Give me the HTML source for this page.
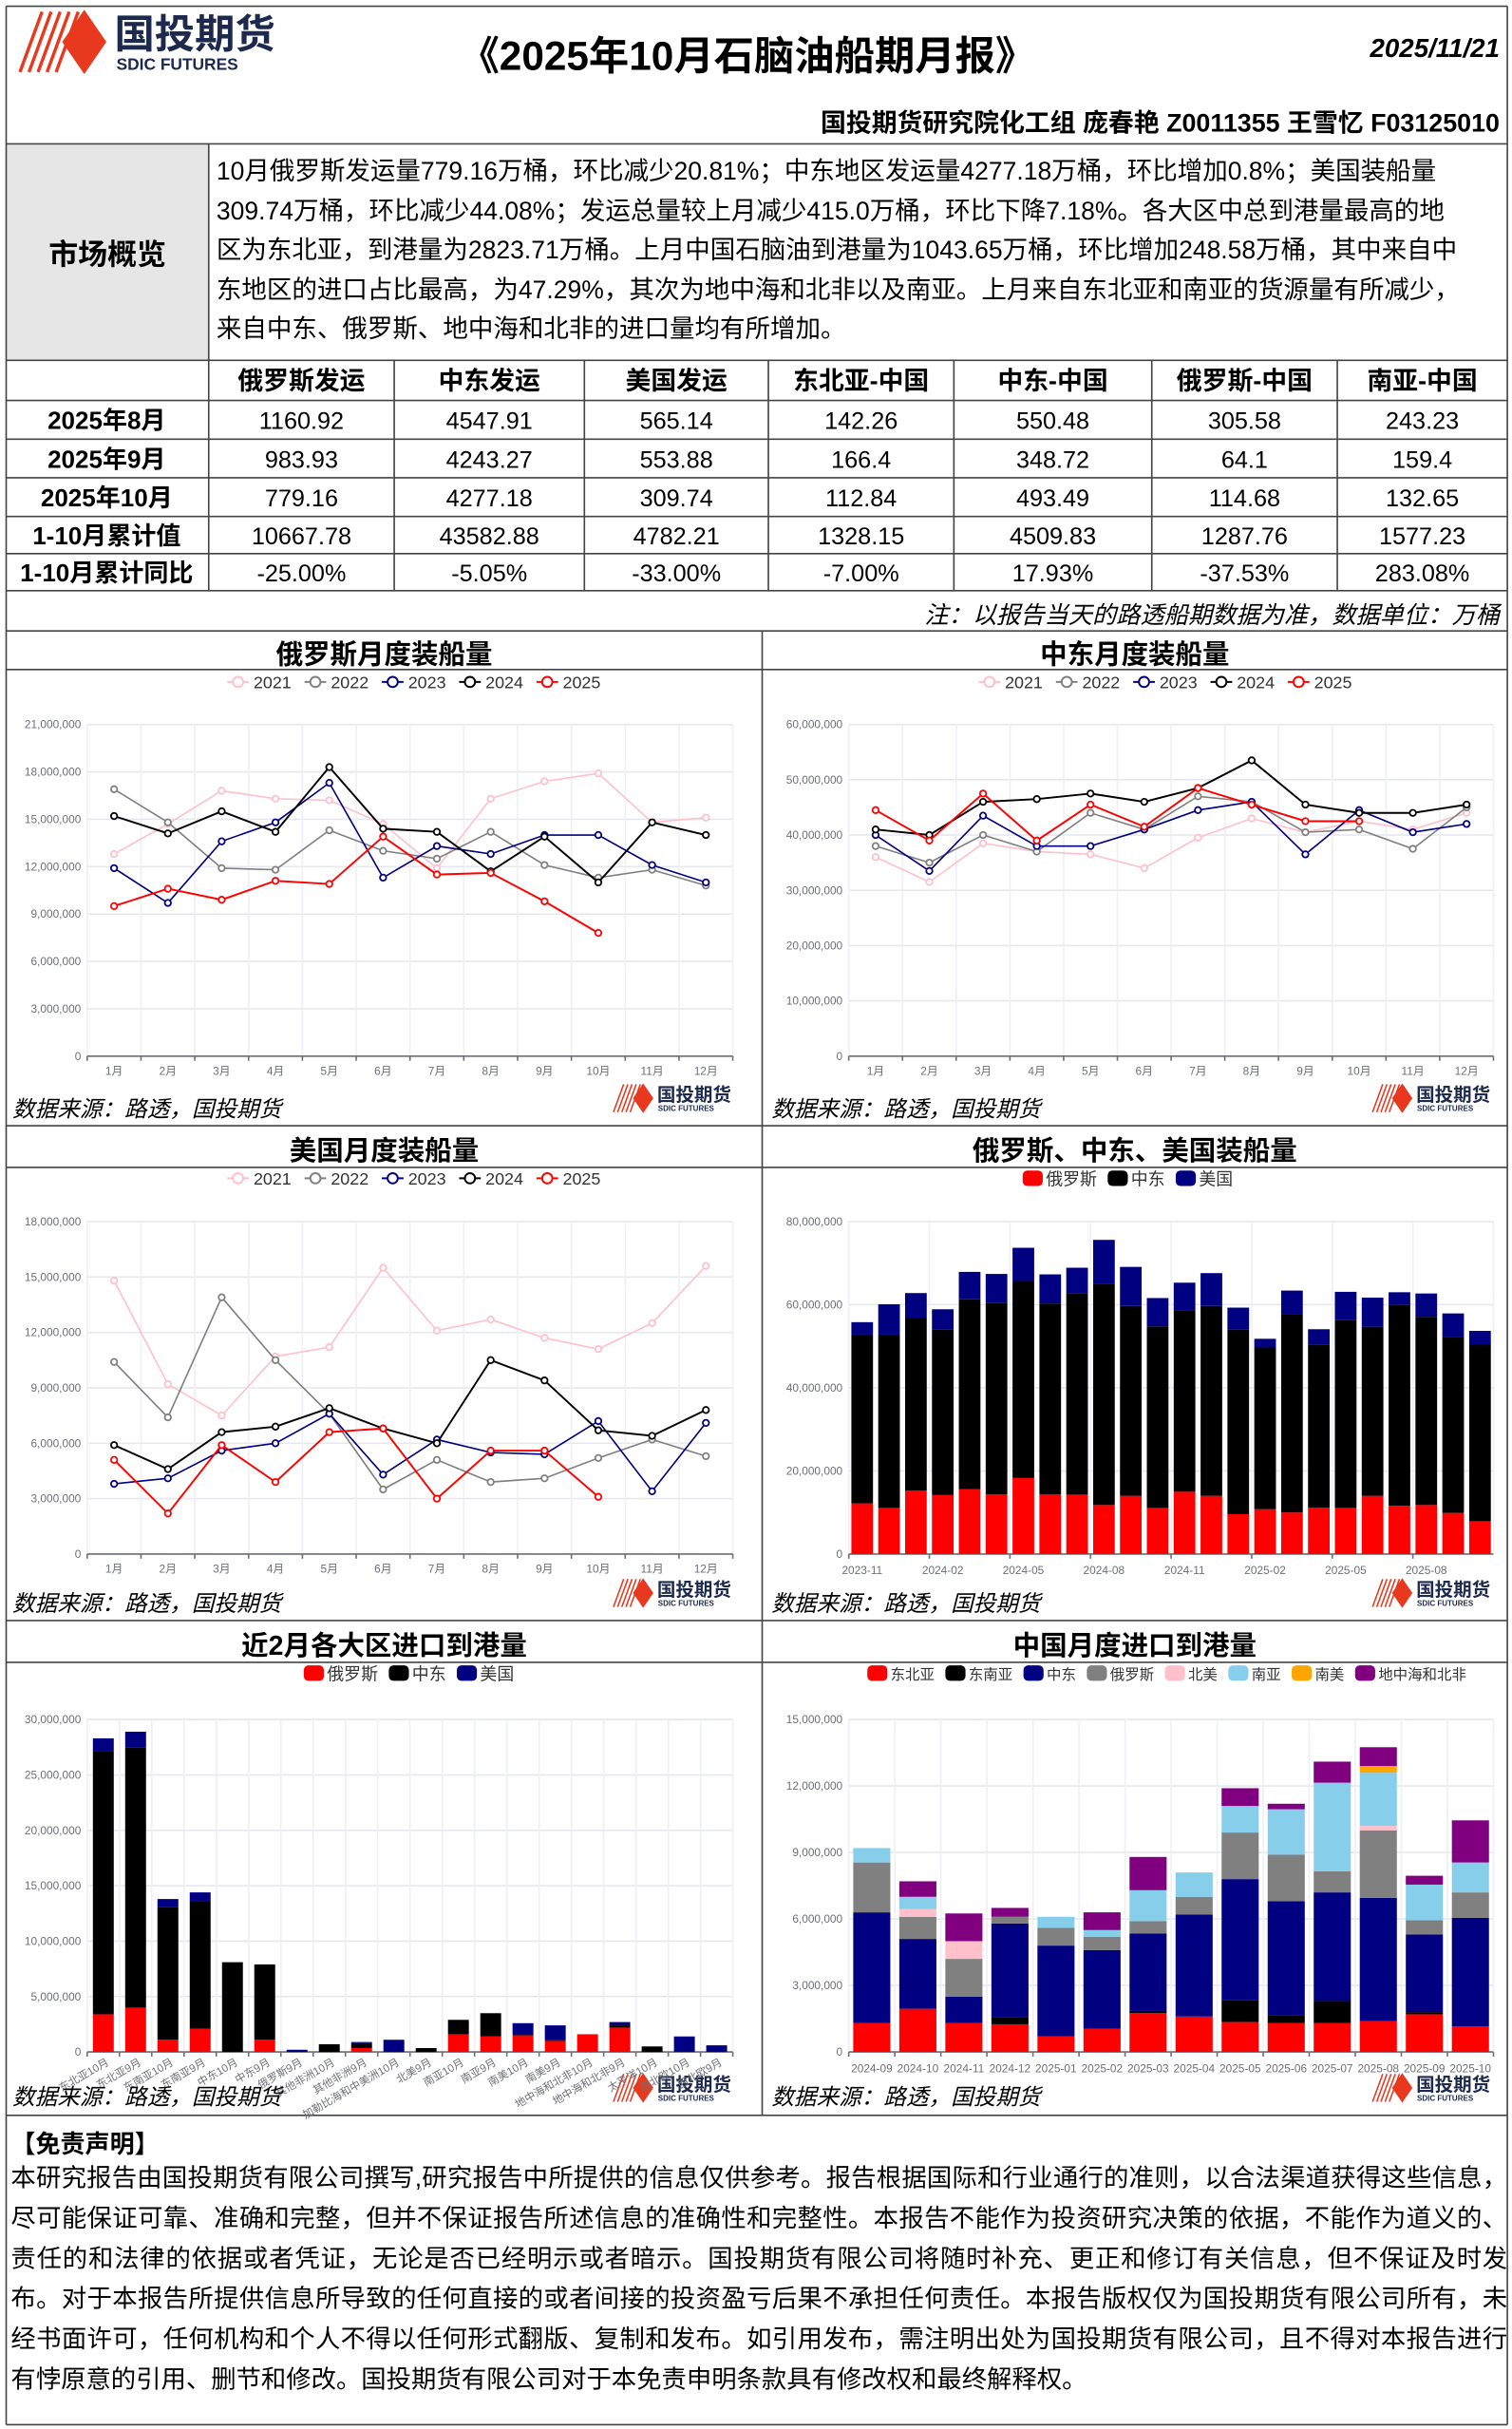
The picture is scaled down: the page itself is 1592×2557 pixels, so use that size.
<!DOCTYPE html>
<html><head><meta charset="utf-8">
<style>
html,body{margin:0;padding:0;background:#fff;}
body{width:1592px;height:2557px;overflow:hidden;position:relative;}
#root{position:absolute;left:0;top:0;width:978px;height:1571px;transform:scale(1.62781);transform-origin:0 0;font-family:"Liberation Sans","Noto Sans CJK SC",sans-serif;color:#000;}
.a{position:absolute;white-space:nowrap;}
.ov{position:absolute;left:140px;top:99px;width:808px;font-size:16.3px;line-height:25.6px;}
.ct{position:absolute;font-size:17.5px;font-weight:bold;text-align:center;}
.src{position:absolute;font-size:14.5px;font-style:italic;}
.disc{position:absolute;left:7px;top:1397px;width:968px;font-size:16.2px;line-height:25.9px;text-align:justify;}
svg text{font-family:"Liberation Sans","Noto Sans CJK SC",sans-serif;}
</style></head>
<body><div id="root">
<svg id="s" width="978" height="1571" style="position:absolute;left:0;top:0"></svg>
<div class="a" style="left:297px;top:16px;font-size:26px;font-weight:bold;">《2025年10月石脑油船期月报》</div>
<div class="a" style="right:8px;top:22px;font-size:17px;font-weight:bold;font-style:italic;">2025/11/21</div>
<div class="a" style="right:8px;top:66px;font-size:16.5px;font-weight:bold;">国投期货研究院化工组 庞春艳 Z0011355 王雪忆 F03125010</div>
<div class="a" style="left:4px;width:131px;top:150px;text-align:center;font-size:19px;font-weight:bold;">市场概览</div>
<div class="ov">10月俄罗斯发运量779.16万桶，环比减少20.81%；中东地区发运量4277.18万桶，环比增加0.8%；美国装船量309.74万桶，环比减少44.08%；发运总量较上月减少415.0万桶，环比下降7.18%。各大区中总到港量最高的地区为东北亚，到港量为2823.71万桶。上月中国石脑油到港量为1043.65万桶，环比增加248.58万桶，其中来自中东地区的进口占比最高，为47.29%，其次为地中海和北非以及南亚。上月来自东北亚和南亚的货源量有所减少，来自中东、俄罗斯、地中海和北非的进口量均有所增加。</div>
<div class="a" style="right:8px;top:386px;font-size:15.5px;font-style:italic;">注：以报告当天的路透船期数据为准，数据单位：万桶</div>
<div class="ct" style="left:4px;width:489px;top:410px;">俄罗斯月度装船量</div>
<div class="ct" style="left:493px;width:482px;top:410px;">中东月度装船量</div>
<div class="ct" style="left:4px;width:489px;top:731px;">美国月度装船量</div>
<div class="ct" style="left:493px;width:482px;top:731px;">俄罗斯、中东、美国装船量</div>
<div class="ct" style="left:4px;width:489px;top:1051px;">近2月各大区进口到港量</div>
<div class="ct" style="left:493px;width:482px;top:1051px;">中国月度进口到港量</div>
<div class="src" style="left:8px;top:706px;">数据来源：路透，国投期货</div>
<div class="src" style="left:499px;top:706px;">数据来源：路透，国投期货</div>
<div class="src" style="left:8px;top:1026px;">数据来源：路透，国投期货</div>
<div class="src" style="left:499px;top:1026px;">数据来源：路透，国投期货</div>
<div class="src" style="left:8px;top:1345px;">数据来源：路透，国投期货</div>
<div class="src" style="left:499px;top:1345px;">数据来源：路透，国投期货</div>
<div class="a" style="left:7px;top:1373px;font-size:16px;font-weight:bold;">【免责声明】</div>
<div class="disc">本研究报告由国投期货有限公司撰写,研究报告中所提供的信息仅供参考。报告根据国际和行业通行的准则，以合法渠道获得这些信息，尽可能保证可靠、准确和完整，但并不保证报告所述信息的准确性和完整性。本报告不能作为投资研究决策的依据，不能作为道义的、责任的和法律的依据或者凭证，无论是否已经明示或者暗示。国投期货有限公司将随时补充、更正和修订有关信息，但不保证及时发布。对于本报告所提供信息所导致的任何直接的或者间接的投资盈亏后果不承担任何责任。本报告版权仅为国投期货有限公司所有，未经书面许可，任何机构和个人不得以任何形式翻版、复制和发布。如引用发布，需注明出处为国投期货有限公司，且不得对本报告进行有悖原意的引用、删节和修改。国投期货有限公司对于本免责申明条款具有修改权和最终解释权。</div>
</div>
<script>
var S=document.getElementById('s'),NS='http://www.w3.org/2000/svg';
function el(t,a,txt){var e=document.createElementNS(NS,t);for(var k in a)e.setAttribute(k,a[k]);if(txt!=null)e.textContent=txt;S.appendChild(e);return e;}
function ln(x1,y1,x2,y2,c,w){el('line',{x1:x1,y1:y1,x2:x2,y2:y2,stroke:c||'#555',"stroke-width":w||1});}
function rc(x,y,w,h,f){el('rect',{x:x,y:y,width:w,height:h,fill:f});}
function tx(x,y,s,o){var a={x:x,y:y};for(var k in o)a[k]=o[k];el('text',a,s);}
rc(4,93,131,140,'#e6e6e6');
function logo(x,y,s){
 for(var i=0;i<5;i++){el('line',{x1:x+(3+i*4.5)*s,y1:y+32*s,x2:x+(14+i*4.5)*s,y2:y+2*s,stroke:'#e8391f','stroke-width':1.6*s});}
 el('polygon',{points:(x+24*s)+','+(y+17*s)+' '+(x+35*s)+','+(y+1*s)+' '+(x+46*s)+','+(y+17*s)+' '+(x+35*s)+','+(y+33*s),fill:'#e8391f'});
 tx(x+50*s,y+20*s,'国投期货',{'font-size':20*s,'font-weight':'bold',fill:'#1d2a4d'});
 tx(x+51*s,y+31*s,'SDIC FUTURES',{'font-size':8.2*s,'font-weight':'bold',fill:'#1d2a4d'});
}
logo(9,5,1.3);
[[395,700],[886,700],[395,1020],[886,1020],[395,1340],[886,1340]].forEach(function(p){logo(p[0],p[1],0.6);});
var H=[4,93,233,259,284,309,334,358,382,408,433,728,755,1048,1075,1368,1568];
H.forEach(function(y){ln(4,y,975,y,'#444',1);});
ln(4,4,4,1568,'#444');ln(975,4,975,1568,'#444');
ln(135,93,135,382,'#444');
var CX=[135,255,378,497,617,745,865,975];
CX.forEach(function(x,i){if(i>0&&i<7)ln(x,233,x,382,'#444');});
ln(493,408,493,1368,'#444');
var hdr=['俄罗斯发运','中东发运','美国发运','东北亚-中国','中东-中国','俄罗斯-中国','南亚-中国'];
var rows=[['2025年8月','1160.92','4547.91','565.14','142.26','550.48','305.58','243.23'],
['2025年9月','983.93','4243.27','553.88','166.4','348.72','64.1','159.4'],
['2025年10月','779.16','4277.18','309.74','112.84','493.49','114.68','132.65'],
['1-10月累计值','10667.78','43582.88','4782.21','1328.15','4509.83','1287.76','1577.23'],
['1-10月累计同比','-25.00%','-5.05%','-33.00%','-7.00%','17.93%','-37.53%','283.08%']];
hdr.forEach(function(h,i){tx((CX[i]+CX[i+1])/2,252,h,{'text-anchor':'middle','font-size':16.5,'font-weight':'bold'});});
var RY=[259,284,309,334,358,382];
rows.forEach(function(r,j){var y=(RY[j]+RY[j+1])/2+6;
 tx(69,y,r[0],{'text-anchor':'middle','font-size':16,'font-weight':'bold'});
 for(var i=1;i<8;i++)tx((CX[i-1]+CX[i])/2,y,r[i],{'text-anchor':'middle','font-size':15.5});});
function fmt(v){return v==0?'0':v.toLocaleString('en-US');}
function axes(L,R,T,B,max,step,n,grid){
 for(var v=0;v<=max+1;v+=step){var y=B-(v/max)*(B-T);ln(L,y,R,y,'#e6e8f0');tx(L-4,y+2.5,fmt(v),{'text-anchor':'end','font-size':7.3,fill:'#6e7079'});}
 var cw=(R-L)/n;
 if(grid)for(var i=0;i<=n;i++)ln(L+i*cw,T,L+i*cw,B,'#eef0f5');
 ln(L,B,R,B,'#6e7079');
 for(var i=0;i<=n;i++)ln(L+i*cw,B,L+i*cw,B+3,'#6e7079');
 return cw;}
var COL=['#ffc0cb','#808080','#000080','#000000','#ff0000'];
function legendLine(cx,y){var yrs=['2021','2022','2023','2024','2025'];var x=cx-121;
 yrs.forEach(function(s,i){ln(x,y,x+14,y,COL[i],1.2);el('circle',{cx:x+7,cy:y,r:3.3,fill:'#fff',stroke:COL[i],'stroke-width':1.2});tx(x+17,y+4,s,{'font-size':11,fill:'#333'});x+=50;});}
function lineChart(L,R,T,B,max,step,data){
 var cw=axes(L,R,T,B,max,step,12,true);
 for(var i=0;i<12;i++)tx(L+cw*(i+.5),B+12,(i+1)+'月',{'text-anchor':'middle','font-size':7.3,fill:'#6e7079'});
 data.forEach(function(d,k){var pts=d.map(function(v,i){return (L+cw*(i+.5))+','+(B-v*1e6/max*(B-T));});
  el('polyline',{points:pts.join(' '),fill:'none',stroke:COL[k],'stroke-width':k==3||k==4?1.2:1});
  d.forEach(function(v,i){el('circle',{cx:L+cw*(i+.5),cy:B-v*1e6/max*(B-T),r:2,fill:'#fff',stroke:COL[k],'stroke-width':1.1});});});}
legendLine(268,441);
lineChart(56.4,474,468.5,683,21e6,3e6,[
[12.8,14.7,16.8,16.3,16.2,14.7,11.9,16.3,17.4,17.9,14.8,15.1],
[16.9,14.8,11.9,11.8,14.3,13.0,12.5,14.2,12.1,11.3,11.8,10.8],
[11.9,9.7,13.6,14.8,17.3,11.3,13.3,12.8,14.0,14.0,12.1,11.0],
[15.2,14.1,15.5,14.2,18.3,14.4,14.2,11.7,13.9,11.0,14.8,14.0],
[9.5,10.6,9.9,11.1,10.9,13.9,11.5,11.6,9.8,7.8]]);
legendLine(754,441);
lineChart(549,966,468.5,683,60e6,10e6,[
[36,31.5,38.5,37,36.5,34,39.5,43,40.5,42.5,41,44],
[38,35,40,37,44,41,47,46,40.5,41,37.5,45],
[40,33.5,43.5,38,38,41,44.5,46,36.5,44.5,40.5,42],
[41,40,46,46.5,47.5,46,48.5,53.5,45.5,44,44,45.5],
[44.5,39,47.5,39,45.5,41.5,48.5,45.5,42.5,42.5]]);
legendLine(268,762);
lineChart(56.4,474,790,1005,18e6,3e6,[
[14.8,9.2,7.5,10.7,11.2,15.5,12.1,12.7,11.7,11.1,12.5,15.6],
[10.4,7.4,13.9,10.5,7.6,3.5,5.1,3.9,4.1,5.2,6.2,5.3],
[3.8,4.1,5.6,6.0,7.6,4.3,6.2,5.5,5.4,7.2,3.4,7.1],
[5.9,4.6,6.6,6.9,7.9,6.8,6.0,10.5,9.4,6.7,6.4,7.8],
[5.1,2.2,5.9,3.9,6.6,6.8,3.0,5.6,5.6,3.1]]);
function legendBox(cx,y,items){var w=0;items.forEach(function(it){w+=17+it[0].length*11+5;});var x=cx-w/2;
 items.forEach(function(it){el('rect',{x:x,y:y-5,width:13,height:10,rx:3,fill:it[1]});tx(x+15,y+4.5,it[0],{'font-size':11,fill:'#333'});x+=17+it[0].length*11+5;});}
function stacked(L,R,T,B,max,step,tops,cols,bw,grid){
 var n=tops.length;var cw=axes(L,R,T,B,max,step,n,grid);
 tops.forEach(function(t,i){var prev=0;var cx=L+cw*(i+.5);
  t.forEach(function(v,k){if(v>prev){var y1=B-v*1e6/max*(B-T),y0=B-prev*1e6/max*(B-T);rc(cx-bw/2,y1,bw,y0-y1,cols[k]);prev=v;}});});
 return cw;}
legendBox(733,762,[['俄罗斯','#ff0000'],['中东','#000000'],['美国','#000080']]);
var T2=[[12.2,52.8,55.8],[11.1,52.8,60.1],[15.3,56.9,62.8],[14.2,54.1,58.9],[15.6,61.3,67.9],[14.4,60.5,67.4],[18.3,65.7,73.7],[14.4,60.3,67.3],[14.3,62.8,68.9],[11.8,65.0,75.6],[14.0,59.7,69.1],[11.1,54.8,61.6],[15.0,58.7,65.3],[14.0,59.7,67.6],[9.6,54.1,59.3],[10.8,49.7,51.8],[10.0,57.6,63.4],[11.2,50.3,54.1],[11.1,56.3,63.1],[14.0,54.7,61.7],[11.6,59.9,63.0],[11.8,57.1,62.7],[9.9,52.3,57.9],[7.9,50.5,53.7]];
(function(){var L=549,R=966,T=790,B=1005;
 for(var v=0;v<=80e6;v+=20e6){var y=B-v/80e6*(B-T);ln(L,y,R,y,'#e6e8f0');tx(L-4,y+2.5,fmt(v),{'text-anchor':'end','font-size':7.3,fill:'#6e7079'});}
 var cw=(R-L)/24;
 for(var i=0;i<=24;i+=3)ln(L+i*cw,T,L+i*cw,B,'#eef0f5');
 ln(L,B,R,B,'#6e7079');
 var labs=['2023-11','2024-02','2024-05','2024-08','2024-11','2025-02','2025-05','2025-08'];
 labs.forEach(function(s,j){var x=L+cw*(j*3+0.5);tx(x,B+13,s,{'text-anchor':'middle','font-size':7.3,fill:'#6e7079'});ln(L+cw*j*3,B,L+cw*j*3,B+3,'#6e7079');});
 T2.forEach(function(t,i){var prev=0,cx=L+cw*(i+.5),cols=['#ff0000','#000000','#000080'];
  t.forEach(function(v,k){var y1=B-v/80*(B-T),y0=B-prev/80*(B-T);rc(cx-7,y1,14,y0-y1,cols[k]);prev=v;});});
})();
legendBox(268,1082,[['俄罗斯','#ff0000'],['中东','#000000'],['美国','#000080']]);
var RG=[[3.4,27.1,28.3],[4.0,27.5,28.9],[1.1,13.1,13.8],[2.1,13.6,14.4],[0,8.1,8.1],[1.1,7.9,7.9],[0,0,0.2],[0,0.7,0.7],[0.35,0.8,0.9],[0,0,1.1],[0,0.35,0.35],[1.6,2.9,2.9],[1.4,3.5,3.5],[1.5,1.6,2.6],[1.0,1.05,2.4],[1.6,1.6,1.6],[2.2,2.4,2.7],[0,0.5,0.5],[0,0,1.4],[0,0,0.6]];
var RL=['东北亚10月','东北亚9月','东南亚10月','东南亚9月','中东10月','中东9月','俄罗斯9月','其他非洲10月','其他非洲9月','加勒比海和中美洲10月','北美9月','南亚10月','南亚9月','南美10月','南美9月','地中海和北非10月','地中海和北非9月','太平洋10月','西北欧10月','西北欧9月'];
(function(){var L=56.4,R=474,T=1112,B=1327;
 var cw=stacked(L,R,T,B,30e6,5e6,RG,['#ff0000','#000000','#000080'],13.5,true);
 RL.forEach(function(s,i){var x=L+cw*(i+.5)+4,y=B+8;tx(x,y,s,{'text-anchor':'end','font-size':7,fill:'#6e7079',transform:'rotate(-30 '+x+' '+y+')'});});
})();
(function(){var L=549,R=966,T=1112,B=1327;
 var items=[['东北亚','#ff0000'],['东南亚','#000000'],['中东','#000080'],['俄罗斯','#808080'],['北美','#ffc0cb'],['南亚','#87ceeb'],['南美','#ffa500'],['地中海和北非','#800080']];
 var x=561;items.forEach(function(it){el('rect',{x:x,y:1077,width:13,height:10,rx:3,fill:it[1]});tx(x+15,1086,it[0],{'font-size':9.5,fill:'#333'});x+=17+it[0].length*9.5+5;});
 var D=[[1.3,1.3,6.3,8.55,8.55,9.2,9.2,9.2],[1.95,1.95,5.1,6.1,6.45,7.0,7.0,7.7],[1.3,1.3,2.5,4.2,5.0,5.0,5.0,6.25],[1.25,1.55,5.8,6.1,6.1,6.1,6.1,6.5],[0.7,0.7,4.8,5.6,5.6,6.1,6.1,6.1],[1.05,1.05,4.6,5.2,5.2,5.5,5.5,6.3],[1.75,1.85,5.35,5.9,5.9,7.3,7.3,8.8],[1.6,1.6,6.2,7.0,7.0,8.1,8.1,8.1],[1.35,2.35,7.8,9.9,9.9,11.1,11.1,11.9],[1.3,1.65,6.8,8.9,8.9,10.95,10.95,11.2],[1.3,2.3,7.2,8.15,8.15,12.15,12.15,13.1],[1.4,1.4,6.95,10.0,10.2,12.6,12.9,13.75],[1.7,1.8,5.3,5.95,5.95,7.55,7.55,7.95],[1.15,1.15,6.05,7.2,7.2,8.55,8.55,10.45]];
 var cw=stacked(L,R,T,B,15e6,3e6,D,items.map(function(i){return i[1];}),24,true);
 var labs=['2024-09','2024-10','2024-11','2024-12','2025-01','2025-02','2025-03','2025-04','2025-05','2025-06','2025-07','2025-08','2025-09','2025-10'];
 labs.forEach(function(s,i){tx(L+cw*(i+.5),B+13,s,{'text-anchor':'middle','font-size':7.3,fill:'#6e7079'});});
})();
</script>
</body></html>
